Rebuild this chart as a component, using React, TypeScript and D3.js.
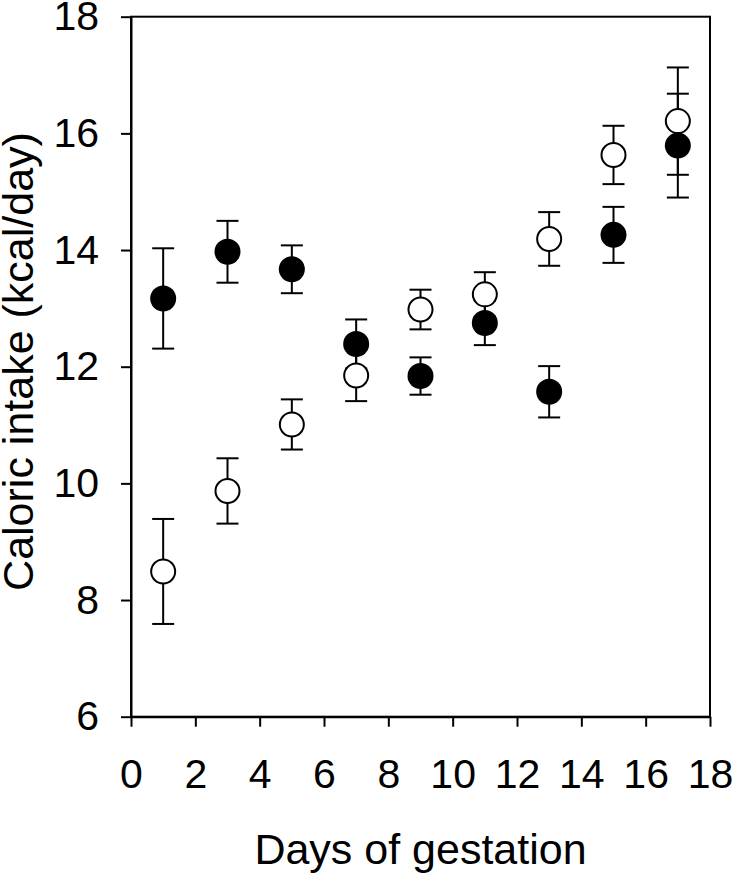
import React, { useEffect, useRef } from "react"
import * as d3 from "d3"

// days of gestation at which intake was measured
const days = [1, 3, 5, 7, 9, 11, 13, 15, 17]
// filled circles
const filledMean = [13.17, 13.97, 13.67, 12.39, 11.84, 12.75, 11.57, 14.26, 15.79]
const filledErr = [0.86, 0.53, 0.41, 0.42, 0.32, 0.38, 0.44, 0.48, 0.89]
// open circles
const openMean = [8.49, 9.87, 11.01, 11.85, 12.98, 13.24, 14.19, 15.63, 16.21]
const openErr = [0.9, 0.56, 0.43, 0.44, 0.34, 0.38, 0.46, 0.5, 0.92]

const xTicks = [0, 2, 4, 6, 8, 10, 12, 14, 16, 18]
const yTicks = [6, 8, 10, 12, 14, 16, 18]

const WIDTH = 734
const HEIGHT = 873
const FONT = "'Liberation Sans', Arial, sans-serif"

export default function App() {
    const ref = useRef<SVGSVGElement>(null)

    useEffect(() => {
        const svg = d3.select(ref.current)
        svg.selectAll("*").remove()

        const x = d3.scaleLinear().domain([0, 18]).range([131, 710])
        const y = d3.scaleLinear().domain([6, 18]).range([716.7, 16.7])

        // frame
        svg.append("rect")
            .attr("x", x(0))
            .attr("y", y(18))
            .attr("width", x(18) - x(0))
            .attr("height", y(6) - y(18))
            .attr("fill", "none")
            .attr("stroke", "#000")
            .attr("stroke-width", 2)

        const xAxis = svg.append("g")
            .attr("transform", `translate(0,${y(6)})`)
            .call(d3.axisBottom(x).tickValues(xTicks).tickSize(10).tickSizeOuter(0))
        const yAxis = svg.append("g")
            .attr("transform", `translate(${x(0)},0)`)
            .call(d3.axisLeft(y).tickValues(yTicks).tickSize(10).tickSizeOuter(0).tickPadding(22))

        for (const ax of [xAxis, yAxis]) {
            ax.select(".domain").attr("stroke-width", 2)
            ax.selectAll(".tick line").attr("stroke-width", 2)
            ax.selectAll(".tick text")
                .attr("font-family", FONT)
                .attr("font-size", 41)
                .attr("fill", "#000")
        }
        xAxis.selectAll(".tick text").attr("y", 71).attr("dy", 0)

        const series = [
            { mean: openMean, err: openErr, fill: "#fff" },
            { mean: filledMean, err: filledErr, fill: "#000" },
        ]

        // error bars under all markers
        const bars = svg.append("g").attr("stroke", "#000").attr("stroke-width", 2)
        series.forEach(s => {
            days.forEach((d, i) => {
                const cx = x(d)
                const top = y(s.mean[i] + s.err[i])
                const bot = y(s.mean[i] - s.err[i])
                bars.append("line").attr("x1", cx).attr("x2", cx).attr("y1", top).attr("y2", bot)
                bars.append("line").attr("x1", cx - 11).attr("x2", cx + 11).attr("y1", top).attr("y2", top)
                bars.append("line").attr("x1", cx - 11).attr("x2", cx + 11).attr("y1", bot).attr("y2", bot)
            })
        })

        series.forEach(s => {
            svg.append("g")
                .selectAll("circle")
                .data(days)
                .enter()
                .append("circle")
                .attr("cx", d => x(d))
                .attr("cy", (d, i) => y(s.mean[i]))
                .attr("r", s.fill === "#000" ? 13 : 12)
                .attr("fill", s.fill)
                .attr("stroke", "#000")
                .attr("stroke-width", s.fill === "#000" ? 0 : 2)
        })

        svg.append("text")
            .attr("x", (x(0) + x(18)) / 2)
            .attr("y", 864)
            .attr("text-anchor", "middle")
            .attr("font-family", FONT)
            .attr("font-size", 43)
            .text("Days of gestation")

        svg.append("text")
            .attr("transform", `translate(33,${(593 + 130) / 2}) rotate(-90)`)
            .attr("text-anchor", "middle")
            .attr("font-family", FONT)
            .attr("font-size", 43)
            .text("Caloric intake (kcal/day)")
    }, [])

    return (
        <svg
            ref={ref}
            width={WIDTH}
            height={HEIGHT}
            style={{ position: "absolute", left: 0, top: 0, background: "#fff" }}
        />
    )
}
